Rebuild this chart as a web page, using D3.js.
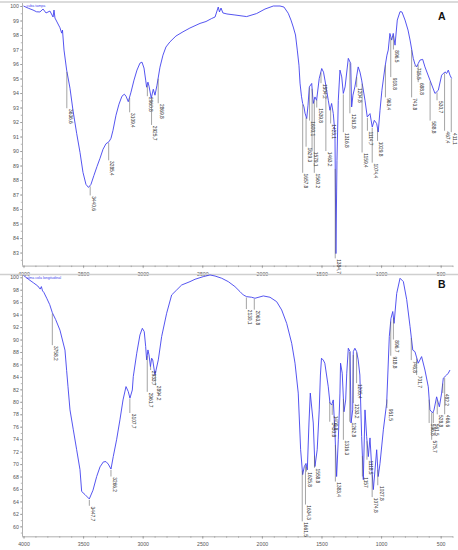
<!DOCTYPE html>
<html><head><meta charset="utf-8">
<script src="https://cdn.jsdelivr.net/npm/d3@7"></script>
<style>body{margin:0;background:#fff}svg{display:block}text{font-family:"Liberation Sans",Arial,sans-serif}</style>
</head><body>
<svg id="c" width="458" height="550"></svg>
<script>
// ---- data (wavenumber cm-1, %T) ----
const specA = [[4000,100],[3960,99.85],[3920,99.72],[3890,99.6],[3862,99.59],[3836,99.79],[3811,99.52],[3778,99.65],[3752,99.24],[3744,99.72],[3736,99.17],[3719,98.9],[3694,98.5],[3680,98.13],[3673,98.34],[3660,96.96],[3638,95.58],[3610,94.33],[3585,92.81],[3554,91.22],[3526,89.91],[3501,88.53],[3476,87.7],[3455,87.49],[3434,87.7],[3409,88.32],[3383,88.94],[3358,89.5],[3333,90.12],[3308,90.5],[3283,90.64],[3266,90.88],[3249,91.43],[3224,92.47],[3199,93.23],[3174,93.78],[3154,93.92],[3140,93.78],[3121,93.4],[3098,94.06],[3073,94.89],[3048,95.58],[3023,96.06],[3006,96.13],[2989,95.72],[2975,94.89],[2967,94.4],[2956,94.75],[2947,94.47],[2928,93.64],[2911,94.26],[2897,93.85],[2880,94.54],[2855,95.78],[2830,96.61],[2805,97.17],[2771,97.53],[2721,97.93],[2662,98.22],[2604,98.48],[2519,98.8],[2469,98.93],[2421,99.14],[2393,99.24],[2366,99.93],[2356,99.59],[2343,99.86],[2327,99.52],[2293,99.45],[2226,99.38],[2128,99.27],[2044,99.48],[1974,99.79],[1904,100],[1848,100],[1815,99.93],[1779,99.5],[1756,99.03],[1737,98.55],[1718,98.0],[1703,96.96],[1689,95.92],[1680,94.68],[1668,93.78],[1658,93.28],[1647,93.04],[1638,92.61],[1624,92.24],[1613,93.16],[1602,94.42],[1582,94.66],[1569,93.28],[1555,93.73],[1541,93.5],[1519,95.0],[1498,95.69],[1483,95.44],[1471,94.89],[1443,93.5],[1429,92.81],[1415,93.28],[1401,92.58],[1387,91.22],[1379,82.93],[1370,89.36],[1359,93.5],[1345,95.58],[1330,95.11],[1317,93.97],[1302,94.42],[1275,96.39],[1255,96.04],[1247,93.04],[1236,93.85],[1220,94.42],[1192,95.8],[1177,95.44],[1163,94.89],[1135,93.5],[1116,92.35],[1093,92.58],[1074,91.66],[1057,92.12],[1037,91.89],[1024,91.31],[1009,92.81],[993,94.19],[967,95.8],[951,96.61],[940,96.96],[926,98.11],[911,97.65],[898,98.11],[883,97.3],[864,99.03],[841,99.61],[825,99.59],[799,99.03],[774,98.34],[757,97.65],[730,96.39],[716,95.99],[701,95.8],[688,96.04],[674,96.27],[651,96.32],[632,95.8],[590,94.89],[548,93.97],[520,94.19],[492,95.23],[464,95.46],[450,95.35],[436,95.58],[422,95.23],[408,95.0]];

const specB = [[4000,100.3],[3960,99.7],[3918,99.13],[3880,98.6],[3860,98.1],[3850,98.5],[3840,97.8],[3830,97.6],[3805,96.63],[3780,95.6],[3758,94.3],[3730,93.2],[3694,91.5],[3652,88.3],[3638,85.0],[3627,82.5],[3610,78.7],[3582,75.5],[3554,72.3],[3526,69.1],[3512,65.6],[3484,65.1],[3448,64.4],[3417,65.8],[3386,68.0],[3358,69.55],[3330,70.35],[3308,70.4],[3289,70.0],[3266,69.2],[3247,71.2],[3219,73.9],[3191,77.1],[3165,80.3],[3140,82.44],[3121,81.64],[3107,80.58],[3087,81.9],[3079,84.04],[3050,87.8],[3023,90.74],[3003,91.8],[2987,91.27],[2975,88.86],[2967,86.73],[2956,88.33],[2947,87.53],[2935,85.65],[2925,87.0],[2916,86.73],[2897,84.32],[2869,86.73],[2841,90.47],[2799,94.22],[2757,97.16],[2715,97.96],[2673,98.76],[2603,99.3],[2561,99.68],[2492,100.1],[2435,100.37],[2393,100.2],[2337,99.84],[2282,99.3],[2226,98.5],[2184,97.7],[2156,97.16],[2128,96.89],[2086,96.79],[2058,96.63],[1988,97.0],[1932,96.79],[1876,96.08],[1834,94.75],[1792,92.6],[1750,89.4],[1722,86.2],[1695,81.4],[1675,72.3],[1658,68.3],[1644,69.6],[1630,70.1],[1619,69.07],[1605,76.6],[1594,81.4],[1569,76.6],[1555,69.6],[1536,72.3],[1519,78.7],[1509,84.3],[1500,87.0],[1485,86.7],[1472,86.2],[1443,82.4],[1429,79.8],[1415,79.5],[1401,80.3],[1387,75.0],[1373,68.0],[1359,73.9],[1345,81.4],[1340,86.2],[1326,84.6],[1311,78.4],[1297,80.3],[1288,84.6],[1275,88.6],[1260,88.06],[1252,76.6],[1238,78.7],[1233,88.06],[1220,88.6],[1205,88.06],[1192,86.73],[1178,84.3],[1163,74.4],[1149,67.5],[1135,78.7],[1121,74.4],[1107,71.2],[1093,74.2],[1079,69.6],[1065,65.9],[1051,69.07],[1037,72.3],[1024,68.0],[1009,70.1],[981,75.5],[953,79.8],[942,85.1],[931,90.5],[917,93.4],[902,94.5],[891,92.6],[869,97.4],[841,99.84],[813,99.3],[785,96.4],[757,92.07],[734,88.3],[716,88.06],[688,86.2],[660,87.26],[632,85.1],[604,82.4],[590,78.7],[567,78.2],[556,78.7],[534,80.8],[511,79.2],[492,81.4],[478,83.8],[450,84.3],[436,84.6],[422,85.1]];

const peaksA  = ["3636,6","3440,6","3285,4","3109,4","2960,8","2925,7","2869,8","1657,8","1629,3","1600,1","1579,1","1560,2","1539,8","1504,2","1463,2","1423,1","1384,7","1316,8","1261,8","1204,8","1159,4","1114,7","1074,4","1029,8","963,4","918,8","896,5","743,8","715,5","688,8","588,8","530,7","467,4","411,1"];
const levelsA = [92.95,86.94,89.36,92.67,93.78,91.8,93.3,88.5,90.3,92.1,90.0,88.5,93.0,94.68,90.0,91.9,82.6,91.3,92.6,94.4,89.9,91.4,89.2,90.7,93.7,95.1,97.0,93.7,95.8,94.75,92.1,93.5,91.4,91.3];

const peaksB  = ["3758,2","3447,7","3266,2","3107,7","2961,7","2933,7","2894,2","2130,1","2063,8","1661,5","1634,3","1625,8","1558,8","1430,8","1409,8","1383,4","1316,3","1262,8","1233,2","1205,4","1157","1118,5","1074,8","1027,8","951,5","918,8","896,7","746,8","701,7","596,8","575,7","561,5","528,8","482,2","466,6"];
const levelsB = [89.1,63.3,68.0,78.2,81.6,85.1,82.7,94.9,94.8,60.8,63.5,68.8,69.4,76.8,77.9,67.2,73.9,76.8,79.8,83.0,68.0,70.7,64.7,66.6,79.0,87.4,90.0,86.7,84.3,76.6,73.9,76.6,78.0,81.4,78.0];

const xTicks = [4000,3500,3000,2500,2000,1500,1000,500];
const yTicksA = [100,99,98,97,96,95,94,93,92,91,90,89,88,87,86,85,84,83];
const yTicksB = [100,98,96,94,92,90,88,86,84,82,80,78,76,74,72,70,68,66,64,62,60];
const sampleA = "cuba tampa";
const sampleB = "alma cola longitudinal";

// ---- drawing ----
const svg = d3.select("#c");
svg.append("rect").attr("width",458).attr("height",550).attr("fill","#fff");

const x = d3.scaleLinear().domain([4000, 400]).range([23.5, 452.6]);

function panel(spec, peaks, levels, yTicks, tDomain, yRange, letter, sample, minorStep){
  const y = d3.scaleLinear().domain(tDomain).range(yRange);
  const g = svg.append("g");
  const x0 = x.range()[0], x1 = 453;
  g.append("line").attr("x1",0).attr("x2",458).attr("y1",yRange[1]-1).attr("y2",yRange[1]-1)
    .attr("stroke","#cfcfcf").attr("stroke-width",1.5);
  const xa = g.append("g").attr("transform",`translate(0,${yRange[0]})`)
    .call(d3.axisBottom(x).tickValues(xTicks).tickSize(2.5).tickFormat(d3.format("d")));
  const xm = g.append("g").attr("transform",`translate(0,${yRange[0]})`)
    .call(d3.axisBottom(x).tickValues(d3.range(4000,399,-100)).tickSize(1.5).tickFormat(""));
  xm.select(".domain").remove();
  const ya = g.append("g").attr("transform",`translate(${x0-1.5},0)`)
    .call(d3.axisLeft(y).tickValues(yTicks).tickSize(2).tickFormat(d3.format("d")));
  const ym = g.append("g").attr("transform",`translate(${x0-1.5},0)`)
    .call(d3.axisLeft(y).tickValues(d3.range(Math.ceil(tDomain[0]/minorStep)*minorStep, tDomain[1], minorStep)).tickSize(1.2).tickFormat(""));
  ym.select(".domain").remove();
  [xa,xm,ya,ym].forEach(a=>{
    a.selectAll(".domain").attr("stroke","#9a9a9a").attr("stroke-width",0.8);
    a.selectAll("line").attr("stroke","#8a8a8a").attr("stroke-width",0.6);
    a.selectAll("text").attr("font-size",5.2).attr("fill","#555").attr("font-family","Liberation Sans, Arial, sans-serif");
  });
  xa.select(".domain").attr("d",`M${x0-1.5},0.5H${x1}`);
  ya.select(".domain").attr("d",`M0.5,${yRange[0]}V${yRange[1]}`);
  xa.selectAll("text").attr("dy","0.9em");
  ya.selectAll("text").attr("x",-3.2);

  const line = d3.line().x(d=>x(d[0])).y(d=>y(d[1]));
  g.append("path").datum(spec).attr("d",line).attr("fill","none")
    .attr("stroke","#4242ee").attr("stroke-width",0.9).attr("stroke-linejoin","round");

  function tAt(w){
    for(let i=0;i<spec.length-1;i++){
      const a=spec[i], b=spec[i+1];
      if(w<=a[0] && w>=b[0]){ const f=(a[0]-w)/(a[0]-b[0]); return a[1]+(b[1]-a[1])*f; }
    }
    return spec[spec.length-1][1];
  }
  peaks.forEach((p,i)=>{
    const w = parseFloat(p.replace(",","."));
    const px = x(w);
    const yc = y(tAt(w)) + 1;
    const yl = y(levels[i]);
    if(yl > yc+0.5){
      g.append("line").attr("x1",px).attr("x2",px).attr("y1",yc).attr("y2",yl)
        .attr("stroke","#666").attr("stroke-width",0.6);
    }
    g.append("text").attr("transform",`translate(${px+1.8},${yl+0.8}) rotate(90)`)
      .attr("font-size",4.8).attr("fill","#333").attr("text-anchor","start").text(p);
  });

  g.append("text").attr("x",x0+3).attr("y",yRange[1]+4).attr("font-size",3.6).attr("fill","#4242ee").text(sample);
  g.append("text").attr("x",438).attr("y",yRange[1]+ (letter==="A"?16.5:13)).attr("font-size",10.5)
    .attr("font-weight","bold").attr("fill","#111").text(letter);
}

panel(specA, peaksA, levelsA, yTicksA, [82.1,100.2], [265.6,3.1], "A", sampleA, 0.5);
panel(specB, peaksB, levelsB, yTicksB, [58.4,100.3], [536.3,275.4], "B", sampleB, 1);
</script>
</body></html>
